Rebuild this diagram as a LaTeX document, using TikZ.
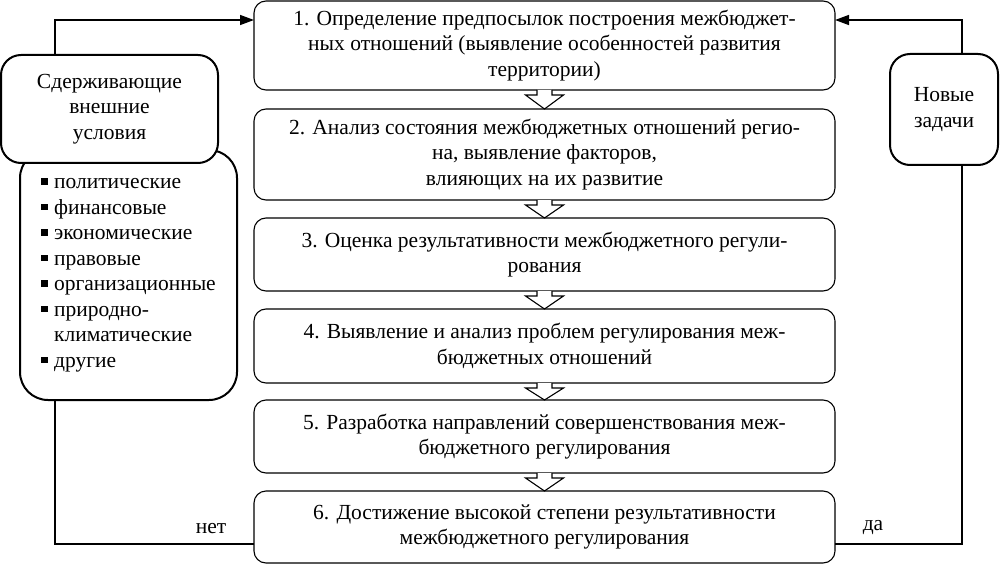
\documentclass[tikz,border=0pt]{standalone}
\usepackage{fontspec}
\newfontfamily\libserif{Liberation Serif}
\usetikzlibrary{arrows.meta}
\newcommand{\bul}{\rule[0.2em]{0.3em}{0.3em}\hspace{0.3em}}
\newcommand{\bulgap}{\hspace{0.6em}}
\begin{document}
\begin{tikzpicture}[x=1pt,y=-1pt,
 mainbox/.style={draw, line width=1.1pt, rounded corners=12pt, minimum width=581pt, align=center, inner sep=0pt, outer sep=0pt, fill=white},
 sidebox/.style={draw, line width=2pt, align=center, inner sep=0pt, outer sep=0pt, fill=white},
 conn/.style={line width=1.5pt},
 arr/.style={conn, -{Triangle[length=14pt,width=10pt]}},
 hollow/.style={draw, line width=1.1pt, fill=white, line join=miter}]
\tikzset{every node/.append style={font=\libserif\fontsize{21.5}{25.5}\selectfont}}
\useasboundingbox (0,0) rectangle (1000,564);

\node[mainbox, minimum height=89pt] (b1) at (544.5,45.5) {1. Определение предпосылок построения межбюджет-\\ных отношений (выявление особенностей развития\\территории)};
\node[mainbox, minimum height=91pt] (b2) at (544.5,154.5) {2. Анализ состояния межбюджетных отношений регио-\\на, выявление факторов,\\влияющих на их развитие};
\node[mainbox, minimum height=73pt] (b3) at (544.5,254.5) {3. Оценка результативности межбюджетного регули-\\рования};
\node[mainbox, minimum height=74pt] (b4) at (544.5,346) {4. Выявление и анализ проблем регулирования меж-\\бюджетных отношений};
\node[mainbox, minimum height=73pt] (b5) at (544.5,436.5) {5. Разработка направлений совершенствования меж-\\бюджетного регулирования};
\node[mainbox, minimum height=72pt] (b6) at (544.5,527) {6. Достижение высокой степени результативности\\межбюджетного регулирования};

\node[sidebox, rounded corners=28pt, minimum width=217pt, minimum height=250pt, align=left] (list) at (128.5,275)
 {\bul политические\\\bul финансовые\\\bul экономические\\\bul правовые\\\bul организационные\\\bul природно-\\\bulgap климатические\\\bul другие};
\node[sidebox, rounded corners=20pt, minimum width=217pt, minimum height=108pt] (lt) at (109.5,109) {Сдерживающие\\внешние\\условия};
\node[sidebox, rounded corners=20pt, minimum width=108pt, minimum height=111pt] (nz) at (944,109.5) {Новые\\задачи};

\foreach \a/\b in {b1/b2,b2/b3,b3/b4,b4/b5,b5/b6}{
 \draw[hollow] ([xshift=-7.5pt]\a.south) -- ([xshift=-7.5pt,yshift=-5pt]\a.south) -- ([xshift=-19pt,yshift=-5pt]\a.south) -- (\b.north) -- ([xshift=19pt,yshift=-5pt]\a.south) -- ([xshift=7.5pt,yshift=-5pt]\a.south) -- ([xshift=7.5pt]\a.south);
}

\draw[arr] ([xshift=54pt]lt.north west) |- ([yshift=-19pt]b1.north west);
\draw[conn] ([xshift=35pt]list.south west) |- ([yshift=-17pt]b6.west);
\draw[conn] ([yshift=-17pt]b6.east) -| ([xshift=18pt]nz.south);
\draw[arr] ([xshift=18pt]nz.north) |- ([yshift=-19pt]b1.north east);

\node (net) at (211,529) {нет};
\node (da) at (873,528) {да};
\end{tikzpicture}
\end{document}
